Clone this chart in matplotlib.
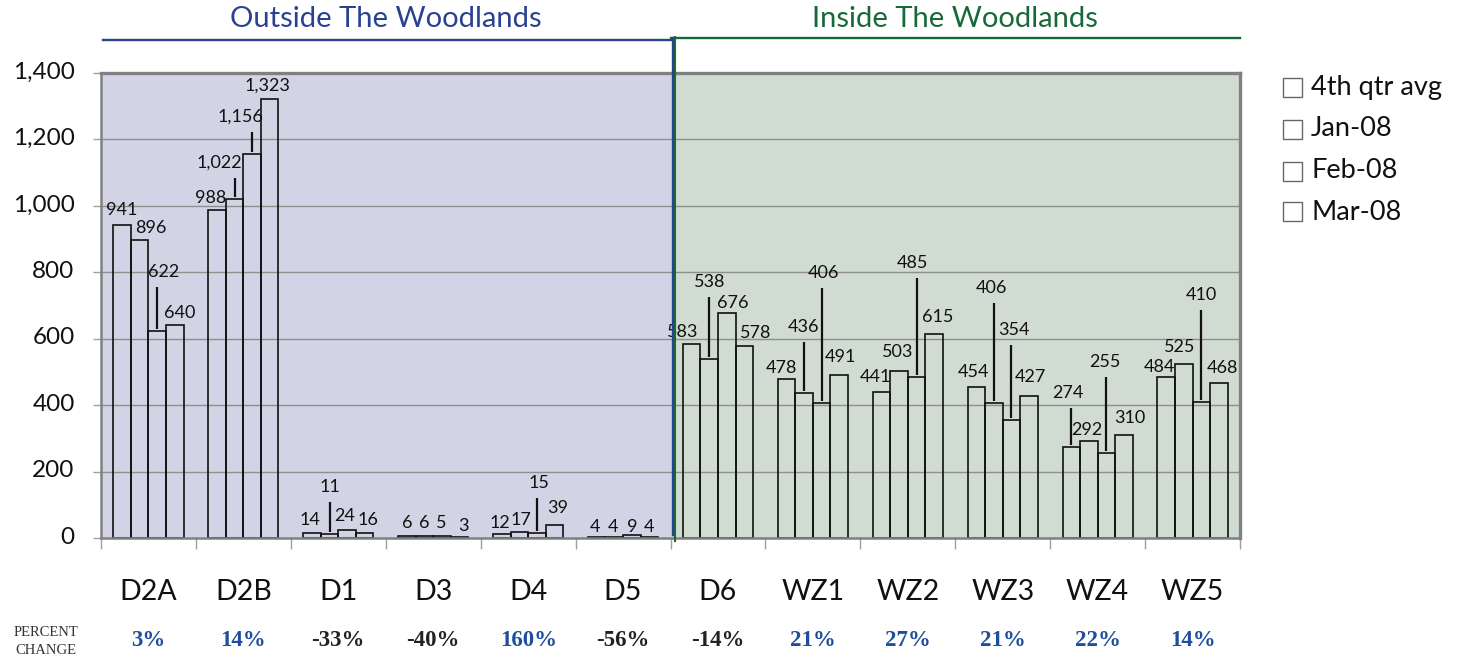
import matplotlib
matplotlib.use("Agg")
import matplotlib.pyplot as plt
import matplotlib.transforms as mtransforms
from matplotlib.patches import Rectangle
import numpy as np

# ---------------- data ----------------
groups = ["D2A", "D2B", "D1", "D3", "D4", "D5", "D6", "WZ1", "WZ2", "WZ3", "WZ4", "WZ5"]
series_names = ["4th qtr avg", "Jan-08", "Feb-08", "Mar-08"]
q4_avg = [941, 988, 14, 6, 12, 4, 583, 478, 441, 454, 274, 484]
jan_08 = [896, 1022, 11, 6, 17, 4, 538, 436, 503, 406, 292, 525]
feb_08 = [622, 1156, 24, 5, 15, 9, 676, 406, 485, 354, 255, 410]
mar_08 = [640, 1323, 16, 3, 39, 4, 578, 491, 615, 427, 310, 468]
pct_change = ["3%", "14%", "-33%", "-40%", "160%", "-56%", "-14%", "21%", "27%", "21%", "22%", "14%"]
y_ticks = [0, 200, 400, 600, 800, 1000, 1200, 1400]
region_titles = ["Outside The Woodlands", "Inside The Woodlands"]

# ---------------- label placement (style) ----------------
lab_y = [
    [987, 1024, 54, 45, 45, 33, 620, 512, 485, 500, 437, 515],
    [933, 1129, 154, 45, 54, 33, 771, 635, 560, 753, 325, 575],
    [801, 1268, 66, 45, 166, 33, 708, 798, 828, 626, 530, 732],
    [677, 1361, 54, 36, 90, 33, 617, 545, 665, 485, 361, 512],
]
lab_dx_px = [
    [0, -6, -2, 0, -2, -2, -9, -5, -6, -3, -3, -7],
    [11, -15, 0, 0, 2, -1, 0, -1, -1, -2, -2, -4],
    [6, -12, -2, -1, 2, 0, 6, 1.5, -4, 2, -2, 0],
    [5, -2, 3, 4, 3, 0, 11, 1, 4, 1, 6, 4],
]
leaders = [
    [0, 0, 0, 0, 0, 0, 0, 0, 0, 0, 1, 0],
    [0, 1, 1, 0, 0, 0, 1, 1, 0, 1, 0, 0],
    [1, 1, 0, 0, 1, 0, 0, 1, 1, 1, 1, 1],
    [0, 0, 0, 0, 0, 0, 0, 0, 0, 0, 0, 0],
]

W, H = 1465, 661
fig = plt.figure(figsize=(W / 100, H / 100), dpi=100)
ax_l, ax_r, ax_t, ax_b = 101, 1240, 73, 538
ax = fig.add_axes([ax_l / W, 1 - ax_b / H, (ax_r - ax_l) / W, (ax_b - ax_t) / H])

FONT = "Lato"
lav = "#D3D3E6"
grn = "#D0DBD2"
blue = "#2B4190"
green = "#17693A"
pblue = "#1F4E9C"

n = len(groups)
x = np.arange(n)
ax.set_xlim(-0.5, n - 0.5)
ax.set_ylim(0, 1400)
ax.set_facecolor("none")
ax.axvspan(-0.5, 5.5, color=lav, zorder=0, lw=0)
ax.axvspan(5.5, n - 0.5, color=grn, zorder=0, lw=0)

for yv in y_ticks[1:-1]:
    ax.axhline(yv, color="#8f8f8f", lw=1.0, zorder=1)

bw = 0.185
px_per_unit = (ax_r - ax_l) / n
data = [q4_avg, jan_08, feb_08, mar_08]
for k, vals in enumerate(data):
    xs = x + (k - 1.5) * bw
    ax.bar(xs, vals, width=bw, facecolor="none", edgecolor="#111111", lw=1.2, zorder=3)
    for g in range(n):
        lx = xs[g] + lab_dx_px[k][g] / px_per_unit
        v = vals[g]
        ax.text(lx, lab_y[k][g], f"{v:,}", ha="center", va="center",
                fontsize=13, family=FONT, color="#111111", zorder=5)
        if leaders[k][g]:
            ax.plot([xs[g], xs[g]], [lab_y[k][g] - 45, v + 6], color="#111111",
                    lw=1.6, zorder=4, solid_capstyle="butt")

# axes styling
for side in ["top", "right", "left", "bottom"]:
    ax.spines[side].set_color("#808080")
ax.spines["top"].set_linewidth(2.4)
ax.spines["right"].set_linewidth(2.4)
ax.spines["left"].set_linewidth(1.8)
ax.spines["bottom"].set_linewidth(1.8)
for s in ax.spines.values():
    s.set_zorder(6)

ax.set_xticks(np.arange(-0.5, n, 1.0))
ax.set_xticklabels([])
ax.tick_params(axis="x", length=8, width=1, color="#a0a0a0", direction="out")
ax.set_yticks(y_ticks)
ax.set_yticklabels([f"{v:,}" for v in y_ticks], family=FONT, fontsize=17.5, color="#111111")
ax.tick_params(axis="y", length=6, width=1, color="#a0a0a0", direction="out", pad=13)
shift = mtransforms.ScaledTranslation(0, 3 / 100, fig.dpi_scale_trans)
for lbl in ax.get_yticklabels():
    lbl.set_transform(lbl.get_transform() + shift)

# group labels and percent change
trans = mtransforms.blended_transform_factory(ax.transData, ax.transAxes)
for g in range(n):
    ax.text(x[g], (ax_b - 592) / (ax_b - ax_t), groups[g], transform=trans, ha="center",
            va="center", fontsize=20.5, family=FONT, color="#111111")
    col = "#222222" if pct_change[g].startswith("-") else pblue
    ax.text(x[g], (ax_b - 641) / (ax_b - ax_t), pct_change[g], transform=trans, ha="center",
            va="center", fontsize=16.5, family="Liberation Serif", weight="bold", color=col)

fig.text(46 / W, 1 - 633 / H, "PERCENT", ha="center", va="center",
         family="Liberation Serif", fontsize=10.5, color="#333333")
fig.text(46 / W, 1 - 651 / H, "CHANGE", ha="center", va="center",
         family="Liberation Serif", fontsize=10.5, color="#333333")

# region headers and divider lines
def ay(py):
    return (ax_b - py) / (ax_b - ax_t)

tb = mtransforms.offset_copy(trans, fig=fig, x=2.0 * 0.72, y=0, units="points")
tg = mtransforms.offset_copy(trans, fig=fig, x=4.5 * 0.72, y=0, units="points")
ax.plot([5.5, 5.5], [ay(535), ay(38)], transform=tb, color=blue, lw=1.7, clip_on=False, zorder=7)
ax.plot([5.5, 5.5], [ay(541), ay(37)], transform=tg, color=green, lw=1.5, clip_on=False, zorder=7)
ax.plot([-0.5, 5.5], [ay(39.5), ay(39.5)], transform=tb, color=blue, lw=1.7, clip_on=False)
ax.plot([5.5, n - 0.5], [ay(38), ay(38)], transform=trans, color=green, lw=1.7, clip_on=False)
ax.text(2.5, ay(19), region_titles[0], transform=trans, ha="center", va="center",
        fontsize=21, family=FONT, color=blue)
ax.text(8.5, ay(19), region_titles[1], transform=trans, ha="center", va="center",
        fontsize=21, family=FONT, color=green)

# legend (manual)
box = 19
row_y = [87.5, 129, 171, 212]
for name, cy in zip(series_names, row_y):
    fig.patches.append(Rectangle(((1292 - box / 2) / W, 1 - (cy + box / 2) / H), box / W, box / H,
                                 transform=fig.transFigure, facecolor="white",
                                 edgecolor="#666666", lw=1.0))
    fig.text(1311 / W, 1 - cy / H, name, ha="left", va="center", family=FONT,
             fontsize=19.5, color="#111111")

fig.savefig("out.png", dpi=100)
